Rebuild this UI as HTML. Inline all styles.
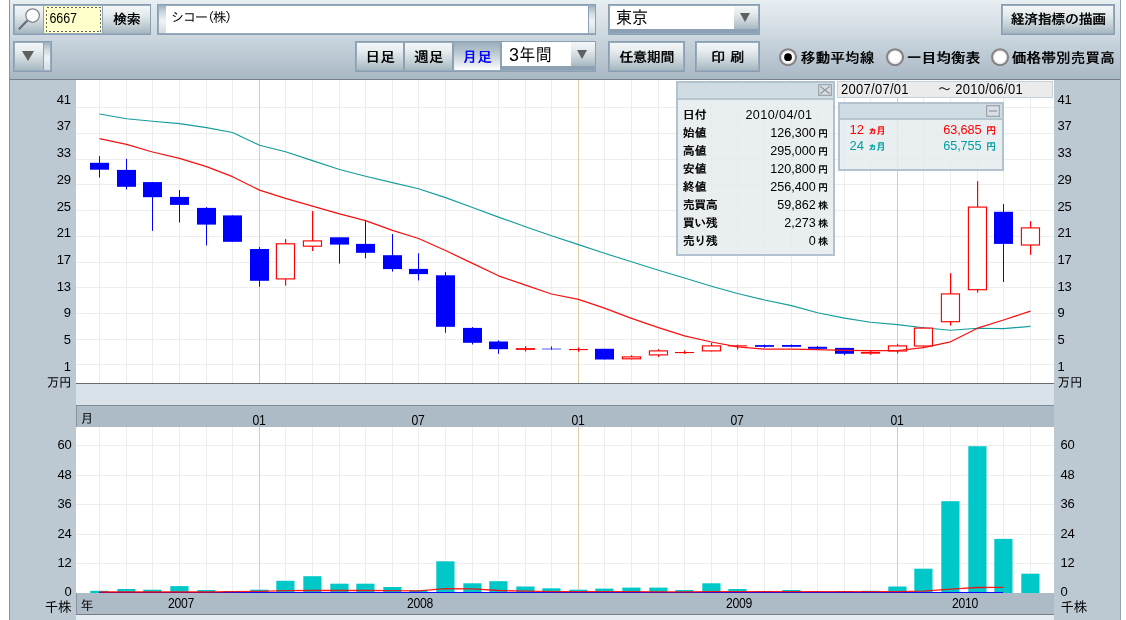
<!DOCTYPE html>
<html lang="ja">
<head>
<meta charset="utf-8">
<title>株価チャート</title>
<style>
html,body{margin:0;padding:0;background:#fff;}
body{width:1126px;height:620px;overflow:hidden;position:relative;font-family:"Liberation Sans","IPAGothic","Noto Sans CJK JP",sans-serif;font-size:13px;color:#000;}
div{box-sizing:border-box;}
#frame{position:absolute;left:9px;top:0;width:1112px;height:620px;background:#bcc9d3;border-left:1px solid #8693a0;border-right:1px solid #95a2ae;}
#tb{position:absolute;left:10px;top:0;width:1110px;height:80px;background:linear-gradient(#e9f0f2 0%,#e4ebf0 7%,#dbe3e9 25%,#c6d2db 55%,#a9b8c6 100%);border-bottom:1px solid #7a8088;}
.abs{position:absolute;}
.grp{position:absolute;background:#8da1b4;box-shadow:inset 0 0 0 1px #8a9fb2, inset 0 0 0 2px #97abbc;}
.btn{position:absolute;background:linear-gradient(#f4f7f8 0%,#e5ebee 32%,#c4d0d6 70%,#a7b8c1 100%);text-align:center;font-weight:normal;text-shadow:.55px 0 0 currentColor;font-family:"Liberation Sans","IPAGothic","Noto Sans CJK JP",sans-serif;white-space:nowrap;}
.btn.on{background:linear-gradient(#9fb1be 0%,#b4c3cd 30%,#e2e8ec 75%,#ffffff 100%);color:#0000ff;}
.spl{position:absolute;background:linear-gradient(180deg,#a2b5c1 0%,#cdd8df 25%,#eff3f5 55%,#d2dce2 100%);}
.wht{position:absolute;background:#fff;white-space:nowrap;}
.tri{position:absolute;width:0;height:0;border-left:6px solid transparent;border-right:6px solid transparent;border-top:9.5px solid #606060;}
.radio{position:absolute;width:18px;height:18px;border-radius:50%;background:radial-gradient(circle at 50% 50%,#fff 0,#fff 4.8px,#e4e4e4 5.8px,#a8a4a4 6.9px,#858383 7.8px,#858383 8.4px,rgba(133,131,131,0) 9.1px);}
.radio i{position:absolute;left:5.2px;top:5.2px;width:7.6px;height:7.6px;border-radius:50%;background:#000;}
.rlab{position:absolute;top:48.7px;font-weight:normal;text-shadow:.6px 0 0 currentColor;font-size:14.5px;letter-spacing:.22px;line-height:18px;white-space:nowrap;}
.ll,.rl{position:absolute;height:16px;line-height:16px;font-size:13px;white-space:nowrap;letter-spacing:-.3px;transform:scale(1,1.05);}
.ll{right:1054.6px;text-align:right;transform-origin:100% 50%;}
.rl{left:1060.5px;transform-origin:0 50%;}
.pl{right:1055.3px}.pr{left:1057.6px}
.cj{font-size:12.5px;letter-spacing:-.2px;}
.ml,.yl{position:absolute;width:40px;text-align:center;font-size:13px;line-height:16px;height:16px;letter-spacing:-.35px;transform:scale(.94,1.08);}
.ml{top:412.5px;margin-left:-1px;}
.yl{top:596.3px;}
.bar{position:absolute;left:76px;width:978px;background:#adbbc7;}
.box{position:absolute;border:2px solid #b2c2ce;background:rgba(228,235,238,.8);}
.box .ttl{position:absolute;left:0;top:0;right:0;background:rgba(203,216,224,.85);border-bottom:2px solid #b6c6d1;}
.row{position:absolute;left:0;right:0;height:18px;line-height:18px;white-space:nowrap;}
.row b{position:absolute;left:4.5px;font-size:12px;font-weight:normal;text-shadow:.45px 0 0 currentColor;letter-spacing:0;}
.row span{position:absolute;right:17.3px;font-size:12.6px;letter-spacing:0;}
.row em{position:absolute;right:5px;font-style:normal;font-size:10px;font-weight:normal;text-shadow:.3px 0 0 currentColor;top:1px;}
</style>
</head>
<body>
<div id="frame"></div>
<div id="tb"></div>

<!-- search group -->
<div class="grp" style="left:13px;top:4px;width:138px;height:31px"></div>
<div class="btn" style="left:15px;top:6px;width:28px;height:27px"></div>
<svg class="abs" style="left:15px;top:6px" width="28" height="27" viewBox="0 0 28 27"><line x1="12.6" y1="14.2" x2="3.9" y2="23.2" stroke="#696f7a" stroke-width="2.2"/><circle cx="17.6" cy="9.5" r="6.75" fill="#fff" stroke="#7e848e" stroke-width="1.25"/></svg>
<div class="abs" style="left:44px;top:6px;width:58px;height:27px;background:#ffffcc;"></div>
<svg class="abs" style="left:44px;top:6px" width="58" height="27"><rect x="2.5" y="1.5" width="54" height="24" fill="none" stroke="#666" stroke-width="1" stroke-dasharray="2 2" shape-rendering="crispEdges"/></svg>
<div class="abs" style="left:49.5px;top:10.8px;font-size:12.5px;line-height:16px;letter-spacing:-.1px;transform:scale(1,1.12);transform-origin:0 50%">6667</div>
<div class="btn" style="left:103px;top:6px;width:47px;height:27px;line-height:27px;font-size:13.8px;letter-spacing:-.2px">検索</div>

<!-- name field -->
<div class="grp" style="left:157px;top:4px;width:439px;height:31px"></div>
<div class="spl" style="left:159px;top:6px;width:7px;height:27px"></div>
<div class="wht" style="left:166px;top:6px;width:422px;height:27px;"><span class="abs" style="left:5px;top:3.7px;font-size:13.3px;line-height:16px;letter-spacing:-1.4px">シコー<span style="margin-left:-5.5px">（</span>株<span style="margin-right:-5.5px">）</span></span></div>
<div class="spl" style="left:589px;top:6px;width:6px;height:27px"></div>

<!-- market select -->
<div class="grp" style="left:608px;top:4px;width:152px;height:31px"></div>
<div class="wht" style="left:610px;top:6px;width:124px;height:23px;"><span class="abs" style="left:6px;top:1.5px;font-size:16px;line-height:20px;transform:scale(1,1.12);transform-origin:0 50%">東京</span></div>
<div class="btn" style="left:734px;top:6px;width:24px;height:23px"></div>
<div class="tri" style="left:740.2px;top:12.8px;border-left-width:5.6px;border-right-width:5.6px;border-top-width:9.8px"></div>

<!-- keizai button -->
<div class="grp" style="left:1001px;top:4px;width:114px;height:31px"></div>
<div class="btn" style="left:1003px;top:6px;width:110px;height:27px;line-height:27px;font-size:13.8px;letter-spacing:-.2px">経済指標の描画</div>

<!-- row 2 -->
<div class="grp" style="left:13px;top:41px;width:39px;height:31px"></div>
<div class="btn" style="left:15px;top:43px;width:28px;height:27px"></div>
<div class="tri" style="left:22.2px;top:51.2px;border-left-width:6.4px;border-right-width:6.4px;border-top-width:10.8px"></div>
<div class="spl" style="left:44px;top:43px;width:6px;height:27px"></div>

<div class="grp" style="left:355px;top:41px;width:241px;height:31px"></div>
<div class="btn" style="left:357px;top:43px;width:46px;height:27px;line-height:28px;font-size:14.5px;letter-spacing:.5px;text-indent:.5px">日足</div>
<div class="btn" style="left:405px;top:43px;width:47px;height:27px;line-height:28px;font-size:14.5px;letter-spacing:.5px;text-indent:.5px">週足</div>
<div class="btn on" style="left:454px;top:43px;width:46px;height:27px;line-height:28px;font-size:14.5px;letter-spacing:.5px;text-indent:.5px">月足</div>
<div class="wht" style="left:502px;top:42px;width:69px;height:24px;"><span class="abs" style="left:6.5px;top:3px;font-size:16px;line-height:20px;letter-spacing:.5px;transform:scale(1,1.1);transform-origin:0 50%"><span style="display:inline-block;transform:scale(1.12,1);transform-origin:0 50%;margin-right:1.4px">3</span>年間</span></div>
<div class="btn" style="left:571px;top:42px;width:24px;height:24px"></div>
<div class="tri" style="left:576.9px;top:49.8px;border-left-width:5.9px;border-right-width:5.9px;border-top-width:9.8px"></div>

<div class="grp" style="left:608px;top:41px;width:77px;height:31px"></div>
<div class="btn" style="left:610px;top:43px;width:73px;height:27px;line-height:28px;font-size:14px;letter-spacing:-.3px">任意期間</div>
<div class="grp" style="left:695px;top:41px;width:65px;height:31px"></div>
<div class="btn" style="left:697px;top:43px;width:61px;height:27px;line-height:28px;font-size:14px;word-spacing:1px">印 刷</div>

<svg class="abs" style="left:778.7px;top:47.8px" width="18.2" height="18.4" viewBox="0 0 18.2 18.4"><defs><radialGradient id="rg778" cx="50%" cy="50%" r="50%"><stop offset="0" stop-color="#fff"/><stop offset=".62" stop-color="#fff"/><stop offset=".82" stop-color="#e6e3e9"/><stop offset="1" stop-color="#cfcbd3"/></radialGradient></defs><circle cx="9.05" cy="9.2" r="8.0" fill="url(#rg778)" stroke="#848282" stroke-width="2"/><circle cx="9.05" cy="9.2" r="3.9" fill="#000"/></svg>
<div class="rlab" style="left:800.6px">移動平均線</div>
<svg class="abs" style="left:886.1px;top:47.8px" width="18.2" height="18.4" viewBox="0 0 18.2 18.4"><defs><radialGradient id="rg886" cx="50%" cy="50%" r="50%"><stop offset="0" stop-color="#fff"/><stop offset=".62" stop-color="#fff"/><stop offset=".82" stop-color="#e6e3e9"/><stop offset="1" stop-color="#cfcbd3"/></radialGradient></defs><circle cx="9.05" cy="9.2" r="8.0" fill="url(#rg886)" stroke="#848282" stroke-width="2"/></svg>
<div class="rlab" style="left:906.6px">一目均衡表</div>
<svg class="abs" style="left:990.7px;top:47.8px" width="18.2" height="18.4" viewBox="0 0 18.2 18.4"><defs><radialGradient id="rg990" cx="50%" cy="50%" r="50%"><stop offset="0" stop-color="#fff"/><stop offset=".62" stop-color="#fff"/><stop offset=".82" stop-color="#e6e3e9"/><stop offset="1" stop-color="#cfcbd3"/></radialGradient></defs><circle cx="9.05" cy="9.2" r="8.0" fill="url(#rg990)" stroke="#848282" stroke-width="2"/></svg>
<div class="rlab" style="left:1011.6px">価格帯別売買高</div>

<!-- chart bands -->
<div class="abs" style="left:76px;top:384px;width:978px;height:21px;background:#d9e1e9"></div>
<div class="bar" style="top:405px;height:22px;border-top:1px solid #7e8a96;border-left:1px solid #88949f;"></div>
<div class="bar" style="top:593px;height:22px;border-bottom:1px solid #747e88;border-left:1px solid #88949f;"></div>
<div class="abs" style="left:76px;top:615px;width:978px;height:5px;background:#e6edf2"></div>

<svg width="1126" height="620" viewBox="0 0 1126 620" style="position:absolute;left:0;top:0">
<rect x="76" y="80" width="978" height="303" fill="#fff"/>
<rect x="76" y="427" width="978" height="166" fill="#fff"/>
<path d="M76 107.5H1054M76 133.5H1054M76 159.5H1054M76 184.5H1054M76 210.5H1054M76 236.5H1054M76 262.5H1054M76 287.5H1054M76 313.5H1054M76 339.5H1054M76 364.5H1054M76 445.5H1054M76 475.5H1054M76 504.5H1054M76 534.5H1054M76 563.5H1054M99.5 80V383M99.5 427V593M126.5 80V383M126.5 427V593M152.5 80V383M152.5 427V593M179.5 80V383M179.5 427V593M206.5 80V383M206.5 427V593M232.5 80V383M232.5 427V593M285.5 80V383M285.5 427V593M312.5 80V383M312.5 427V593M339.5 80V383M339.5 427V593M365.5 80V383M365.5 427V593M392.5 80V383M392.5 427V593M418.5 80V383M418.5 427V593M445.5 80V383M445.5 427V593M472.5 80V383M472.5 427V593M498.5 80V383M498.5 427V593M525.5 80V383M525.5 427V593M551.5 80V383M551.5 427V593M604.5 80V383M604.5 427V593M631.5 80V383M631.5 427V593M658.5 80V383M658.5 427V593M684.5 80V383M684.5 427V593M711.5 80V383M711.5 427V593M737.5 80V383M737.5 427V593M764.5 80V383M764.5 427V593M791.5 80V383M791.5 427V593M817.5 80V383M817.5 427V593M844.5 80V383M844.5 427V593M870.5 80V383M870.5 427V593M923.5 80V383M923.5 427V593M950.5 80V383M950.5 427V593M977.5 80V383M977.5 427V593M1003.5 80V383M1003.5 427V593M1030.5 80V383M1030.5 427V593" stroke="#ededed" stroke-width="1" fill="none" shape-rendering="crispEdges"/>
<path d="M259.5 80V383M259.5 427V593M578.5 80V383M578.5 427V593M897.5 80V383M897.5 427V593" stroke="#dccfa6" stroke-width="1" fill="none" shape-rendering="crispEdges"/>
<rect x="90.3" y="590.8" width="18.2" height="2.2" fill="#00c8c8"/>
<rect x="117.3" y="589.0" width="18.2" height="4.0" fill="#00c8c8"/>
<rect x="143.3" y="589.7" width="18.2" height="3.3" fill="#00c8c8"/>
<rect x="170.3" y="586.1" width="18.2" height="6.9" fill="#00c8c8"/>
<rect x="197.3" y="590.0" width="18.2" height="3.0" fill="#00c8c8"/>
<rect x="223.3" y="591.2" width="18.2" height="1.8" fill="#00c8c8"/>
<rect x="250.3" y="589.7" width="18.2" height="3.3" fill="#00c8c8"/>
<rect x="276.3" y="580.8" width="18.2" height="12.2" fill="#00c8c8"/>
<rect x="303.3" y="576.2" width="18.2" height="16.8" fill="#00c8c8"/>
<rect x="330.3" y="583.7" width="18.2" height="9.3" fill="#00c8c8"/>
<rect x="356.3" y="583.7" width="18.2" height="9.3" fill="#00c8c8"/>
<rect x="383.3" y="587.0" width="18.2" height="6.0" fill="#00c8c8"/>
<rect x="409.3" y="590.4" width="18.2" height="2.6" fill="#00c8c8"/>
<rect x="436.3" y="561.3" width="18.2" height="31.7" fill="#00c8c8"/>
<rect x="463.3" y="583.3" width="18.2" height="9.7" fill="#00c8c8"/>
<rect x="489.3" y="581.2" width="18.2" height="11.8" fill="#00c8c8"/>
<rect x="516.3" y="586.5" width="18.2" height="6.5" fill="#00c8c8"/>
<rect x="542.3" y="588.3" width="18.2" height="4.7" fill="#00c8c8"/>
<rect x="569.3" y="589.7" width="18.2" height="3.3" fill="#00c8c8"/>
<rect x="595.3" y="588.6" width="18.2" height="4.4" fill="#00c8c8"/>
<rect x="622.3" y="587.6" width="18.2" height="5.4" fill="#00c8c8"/>
<rect x="649.3" y="587.6" width="18.2" height="5.4" fill="#00c8c8"/>
<rect x="675.3" y="590.0" width="18.2" height="3.0" fill="#00c8c8"/>
<rect x="702.3" y="583.3" width="18.2" height="9.7" fill="#00c8c8"/>
<rect x="728.3" y="589.0" width="18.2" height="4.0" fill="#00c8c8"/>
<rect x="755.3" y="591.2" width="18.2" height="1.8" fill="#00c8c8"/>
<rect x="782.3" y="590.0" width="18.2" height="3.0" fill="#00c8c8"/>
<rect x="808.3" y="591.5" width="18.2" height="1.5" fill="#00c8c8"/>
<rect x="835.3" y="591.0" width="18.2" height="2.0" fill="#00c8c8"/>
<rect x="861.3" y="590.8" width="18.2" height="2.2" fill="#00c8c8"/>
<rect x="888.3" y="586.5" width="18.2" height="6.5" fill="#00c8c8"/>
<rect x="914.3" y="568.7" width="18.2" height="24.3" fill="#00c8c8"/>
<rect x="941.3" y="501.2" width="18.2" height="91.8" fill="#00c8c8"/>
<rect x="968.3" y="446.2" width="18.2" height="146.8" fill="#00c8c8"/>
<rect x="994.3" y="538.9" width="18.2" height="54.1" fill="#00c8c8"/>
<rect x="1021.3" y="573.7" width="18.2" height="19.3" fill="#00c8c8"/>
<rect x="99" y="592" width="904" height="1" fill="#0a0aff"/>
<path d="M99.5 592L126.5 592L152.5 592L179.5 592L206.5 592L232.5 591.7L259.5 591.3L285.5 590.6L312.5 590.5L339.5 590.5L365.5 590.5L392.5 590.6L418.5 590.8L445.5 588.6L472.5 588.8L498.5 590.5L525.5 591.2L551.5 591.6L578.5 591.7L604.5 591.7L631.5 591.7L658.5 591.8L684.5 591.9L711.5 591.7L737.5 591.7L764.5 591.7L791.5 591.7L817.5 591.7L844.5 591.7L870.5 591.7L897.5 591.7L923.5 591.2L950.5 589.2L977.5 587.5L1003.5 587.3" stroke="#ff0000" stroke-width="1.3" stroke-opacity=".88" fill="none"/>
<path d="M99.5 114.0L126.5 118.7L152.5 121.2L179.5 123.6L206.5 127.6L232.5 132.5L259.5 145.3L285.5 151.7L312.5 160.6L339.5 169.5L365.5 176.2L392.5 182.6L418.5 188.7L445.5 197.6L472.5 207.5L498.5 217.1L525.5 226.7L551.5 235.7L578.5 244.6L604.5 253.3L631.5 261.8L658.5 270.2L684.5 278.0L711.5 286.2L737.5 293.5L764.5 300.0L791.5 305.6L817.5 312.7L844.5 318.1L870.5 322.3L897.5 324.6L923.5 327.7L950.5 330.3L977.5 328.2L1003.5 328.6L1030.5 326.4" stroke="#149c9c" stroke-width="1.15" fill="none" stroke-linejoin="round"/>
<rect x="99" y="156.2" width="1" height="21.3" fill="#0000ff"/>
<rect x="90" y="162.8" width="19" height="6.9" fill="#0000ff"/>
<rect x="126" y="158.9" width="1" height="30.5" fill="#0000ff"/>
<rect x="117" y="169.9" width="19" height="16.9" fill="#0000ff"/>
<rect x="152" y="182.1" width="1" height="48.7" fill="#0000ff"/>
<rect x="143" y="182.1" width="19" height="15.1" fill="#0000ff"/>
<rect x="179" y="190.0" width="1" height="32.5" fill="#0000ff"/>
<rect x="170" y="196.9" width="19" height="8.0" fill="#0000ff"/>
<rect x="206" y="207.2" width="1" height="38.2" fill="#0000ff"/>
<rect x="197" y="207.9" width="19" height="16.7" fill="#0000ff"/>
<rect x="232" y="215.4" width="1" height="26.4" fill="#0000ff"/>
<rect x="223" y="215.4" width="19" height="26.4" fill="#0000ff"/>
<rect x="259" y="247.1" width="1" height="39.6" fill="#0000ff"/>
<rect x="250" y="249.0" width="19" height="31.8" fill="#0000ff"/>
<rect x="285" y="239.1" width="1.2" height="46.5" fill="#ff0000"/>
<rect x="276.4" y="243.8" width="18.1" height="35.1" fill="#fff" stroke="#ff0000" stroke-width="1.15"/>
<rect x="312" y="211.0" width="1.2" height="40.0" fill="#ff0000"/>
<rect x="303.4" y="240.9" width="18.1" height="5.3" fill="#fff" stroke="#ff0000" stroke-width="1.15"/>
<rect x="339" y="237.3" width="1" height="26.3" fill="#0000ff"/>
<rect x="330" y="237.3" width="19" height="7.3" fill="#0000ff"/>
<rect x="365" y="220.4" width="1" height="37.9" fill="#0000ff"/>
<rect x="356" y="243.9" width="19" height="8.9" fill="#0000ff"/>
<rect x="392" y="234.1" width="1" height="37.5" fill="#0000ff"/>
<rect x="383" y="255.2" width="19" height="13.9" fill="#0000ff"/>
<rect x="418" y="253.3" width="1" height="27.2" fill="#0000ff"/>
<rect x="409" y="268.9" width="19" height="5.2" fill="#0000ff"/>
<rect x="445" y="272.1" width="1" height="60.7" fill="#0000ff"/>
<rect x="436" y="275.3" width="19" height="51.5" fill="#0000ff"/>
<rect x="472" y="327.1" width="1" height="17.3" fill="#0000ff"/>
<rect x="463" y="327.9" width="19" height="14.9" fill="#0000ff"/>
<rect x="498" y="340.3" width="1" height="13.5" fill="#0000ff"/>
<rect x="489" y="341.5" width="19" height="7.7" fill="#0000ff"/>
<rect x="525" y="346.1" width="1.2" height="5.4" fill="#ff0000"/>
<rect x="516.4" y="348.7" width="18.1" height="0.6" fill="#fff" stroke="#ff0000" stroke-width="1.15"/>
<rect x="551" y="346.5" width="1" height="3.5" fill="#0000ff"/>
<rect x="542" y="348.5" width="19" height="1" fill="#5a5aff"/>
<rect x="578" y="347.4" width="1.2" height="4.4" fill="#ff0000"/>
<rect x="569" y="349.0" width="19" height="1.1" fill="#ff0000"/>
<rect x="604" y="348.8" width="1" height="10.7" fill="#0000ff"/>
<rect x="595" y="348.8" width="19" height="10.7" fill="#0000ff"/>
<rect x="631" y="355.2" width="1.2" height="4.2" fill="#ff0000"/>
<rect x="622.4" y="356.9" width="18.1" height="1.9" fill="#fff" stroke="#ff0000" stroke-width="1.15"/>
<rect x="658" y="349.1" width="1.2" height="7.9" fill="#ff0000"/>
<rect x="649.4" y="350.9" width="18.1" height="4.0" fill="#fff" stroke="#ff0000" stroke-width="1.15"/>
<rect x="684" y="350.4" width="1.2" height="3.5" fill="#ff0000"/>
<rect x="675" y="352.0" width="19" height="1.1" fill="#ff0000"/>
<rect x="711" y="342.8" width="1.2" height="8.7" fill="#ff0000"/>
<rect x="702.4" y="345.9" width="18.1" height="5.0" fill="#fff" stroke="#ff0000" stroke-width="1.15"/>
<rect x="737" y="344.7" width="1.2" height="4.8" fill="#ff0000"/>
<rect x="728" y="345.3" width="19" height="1.1" fill="#ff0000"/>
<rect x="764" y="344.7" width="1" height="3.0" fill="#0000ff"/>
<rect x="755" y="345.1" width="19" height="1.7" fill="#0000ff"/>
<rect x="791" y="344.5" width="1" height="2.7" fill="#0000ff"/>
<rect x="782" y="345.0" width="19" height="1.8" fill="#0000ff"/>
<rect x="817" y="346.0" width="1" height="3.1" fill="#0000ff"/>
<rect x="808" y="346.8" width="19" height="2.0" fill="#0000ff"/>
<rect x="844" y="347.9" width="1" height="7.3" fill="#0000ff"/>
<rect x="835" y="347.9" width="19" height="5.9" fill="#0000ff"/>
<rect x="870" y="350.9" width="1.2" height="3.9" fill="#ff0000"/>
<rect x="861.4" y="352.4" width="18.1" height="0.7" fill="#fff" stroke="#ff0000" stroke-width="1.15"/>
<rect x="897" y="343.8" width="1.2" height="9.6" fill="#ff0000"/>
<rect x="888.4" y="345.9" width="18.1" height="5.1" fill="#fff" stroke="#ff0000" stroke-width="1.15"/>
<rect x="923" y="327.5" width="1.2" height="20.4" fill="#ff0000"/>
<rect x="914.4" y="328.1" width="18.1" height="17.9" fill="#fff" stroke="#ff0000" stroke-width="1.15"/>
<rect x="950" y="273.2" width="1.2" height="52.3" fill="#ff0000"/>
<rect x="941.4" y="293.9" width="18.1" height="27.8" fill="#fff" stroke="#ff0000" stroke-width="1.15"/>
<rect x="977" y="181.1" width="1.2" height="111.6" fill="#ff0000"/>
<rect x="968.4" y="207.1" width="18.1" height="82.6" fill="#fff" stroke="#ff0000" stroke-width="1.15"/>
<rect x="1003" y="204.1" width="1" height="77.9" fill="#0000ff"/>
<rect x="994" y="211.8" width="19" height="32.1" fill="#0000ff"/>
<rect x="1030" y="221.2" width="1.2" height="33.6" fill="#ff0000"/>
<rect x="1021.4" y="227.9" width="18.1" height="17.1" fill="#fff" stroke="#ff0000" stroke-width="1.15"/>
<path d="M99.5 138.6L126.5 144.3L152.5 152.0L179.5 158.3L206.5 166.7L232.5 176.7L259.5 190.1L285.5 198.3L312.5 206.1L339.5 213.9L365.5 220.6L392.5 230.3L418.5 238.5L445.5 250.5L472.5 263.4L498.5 275.8L525.5 285.2L551.5 294.0L578.5 299.4L604.5 308.2L631.5 318.4L658.5 327.6L684.5 335.8L711.5 342.0L737.5 346.8L764.5 349.2L791.5 349.1L817.5 349.7L844.5 350.4L870.5 350.7L897.5 350.7L923.5 347.7L950.5 341.8L977.5 328.2L1003.5 320.0L1030.5 311.2" stroke="#f81010" stroke-width="1.25" fill="none" stroke-linejoin="round"/>
<rect x="76" y="383" width="978" height="1" fill="#666b70"/>
</svg>

<div class="ll pl" style="top:91.7px">41</div><div class="rl pr" style="top:91.7px">41</div>
<div class="ll pl" style="top:118.4px">37</div><div class="rl pr" style="top:118.4px">37</div>
<div class="ll pl" style="top:145.1px">33</div><div class="rl pr" style="top:145.1px">33</div>
<div class="ll pl" style="top:171.8px">29</div><div class="rl pr" style="top:171.8px">29</div>
<div class="ll pl" style="top:198.5px">25</div><div class="rl pr" style="top:198.5px">25</div>
<div class="ll pl" style="top:225.2px">21</div><div class="rl pr" style="top:225.2px">21</div>
<div class="ll pl" style="top:251.9px">17</div><div class="rl pr" style="top:251.9px">17</div>
<div class="ll pl" style="top:278.6px">13</div><div class="rl pr" style="top:278.6px">13</div>
<div class="ll pl" style="top:305.3px">9</div><div class="rl pr" style="top:305.3px">9</div>
<div class="ll pl" style="top:332.0px">5</div><div class="rl pr" style="top:332.0px">5</div>
<div class="ll pl" style="top:358.7px">1</div><div class="rl pr" style="top:358.7px">1</div>
<div class="ll cj" style="top:375px">万円</div><div class="rl cj pr" style="top:375px">万円</div>
<div class="ll" style="top:436.5px">60</div><div class="rl" style="top:436.5px">60</div>
<div class="ll" style="top:466.5px">48</div><div class="rl" style="top:466.5px">48</div>
<div class="ll" style="top:496.0px">36</div><div class="rl" style="top:496.0px">36</div>
<div class="ll" style="top:525.5px">24</div><div class="rl" style="top:525.5px">24</div>
<div class="ll" style="top:555.0px">12</div><div class="rl" style="top:555.0px">12</div>
<div class="ll" style="top:583.5px">0</div><div class="rl" style="top:583.5px">0</div>
<div class="ll cj" style="top:600px;font-size:13.5px">千株</div><div class="rl cj" style="top:600px;font-size:13.5px">千株</div>
<div class="ml" style="left:239.5px">01</div>
<div class="ml" style="left:398.5px">07</div>
<div class="ml" style="left:558.5px">01</div>
<div class="ml" style="left:717.5px">07</div>
<div class="ml" style="left:877.5px">01</div>
<div class="yl" style="left:160.5px">2007</div>
<div class="yl" style="left:399.5px">2008</div>
<div class="yl" style="left:718.5px">2009</div>
<div class="yl" style="left:945.0px">2010</div>
<div class="abs cj" style="left:80.5px;top:410.5px;line-height:16px;font-size:13px">月</div>
<div class="abs cj" style="left:80.5px;top:597.5px;line-height:16px;font-size:13px">年</div>

<!-- date range -->
<div class="abs" style="left:837px;top:81px;width:216px;height:17px;background:#ebebeb;border:1px solid #c6d2da;"></div>
<div class="abs" style="left:841px;top:81.5px;font-size:13px;line-height:16px;letter-spacing:.27px;white-space:nowrap;transform:scale(1,1.08)">2007/07/01</div>
<div class="abs" style="left:938px;top:81.5px;font-size:13px;line-height:16px;letter-spacing:.27px;white-space:nowrap;transform:scale(1,1.08)">～ 2010/06/01</div>

<!-- info box -->
<div class="box" style="left:676px;top:81px;width:159px;height:175px">
 <div class="ttl" style="height:17px"></div>
 <svg class="abs" style="left:140px;top:1px" width="14" height="12" viewBox="0 0 14 12"><rect x=".65" y=".65" width="12.7" height="10.7" fill="#d8e0e5" stroke="#9fa7ad" stroke-width="1.3"/><path d="M2.3 2.5L11.7 9.6M11.7 2.5L2.3 9.6" stroke="#9c9c9c" stroke-width="1.4"/></svg>
 <div class="row" style="top:22.5px"><b>日付</b><span style="right:20.5px;letter-spacing:.4px">2010/04/01</span></div>
 <div class="row" style="top:40.7px"><b>始値</b><span>126,300</span><em>円</em></div>
 <div class="row" style="top:58.7px"><b>高値</b><span>295,000</span><em>円</em></div>
 <div class="row" style="top:77px"><b>安値</b><span>120,800</span><em>円</em></div>
 <div class="row" style="top:95px"><b>終値</b><span>256,400</span><em>円</em></div>
 <div class="row" style="top:112.7px"><b style="letter-spacing:-.5px">売買高</b><span>59,862</span><em>株</em></div>
 <div class="row" style="top:130.7px"><b style="letter-spacing:-.5px">買い残</b><span>2,273</span><em>株</em></div>
 <div class="row" style="top:149px"><b style="letter-spacing:-.5px">売り残</b><span>0</span><em>株</em></div>
</div>

<!-- legend box -->
<div class="box" style="left:838px;top:102px;width:166px;height:69px">
 <div class="ttl" style="height:16px"></div>
 <svg class="abs" style="left:146px;top:1px" width="14" height="12" viewBox="0 0 14 12"><rect x=".65" y=".65" width="12.7" height="10.7" fill="#d8e0e5" stroke="#9fa7ad" stroke-width="1.3"/><path d="M3 6H11" stroke="#9a9ea2" stroke-width="1.4"/></svg>
 <div class="row" style="top:17px;color:#ff0000"><span style="left:9.5px;right:auto;font-size:13px;letter-spacing:0">12 <i style="font-style:normal;font-size:9.5px;text-shadow:.3px 0 0 currentColor;letter-spacing:-1px">ヵ月</i></span><span style="right:20.5px;font-size:12.7px;letter-spacing:-.1px">63,685</span><em style="right:6px">円</em></div>
 <div class="row" style="top:33px;color:#00a0a0"><span style="left:9.5px;right:auto;font-size:13px;letter-spacing:0">24 <i style="font-style:normal;font-size:9.5px;text-shadow:.3px 0 0 currentColor;letter-spacing:-1px">ヵ月</i></span><span style="right:20.5px;font-size:12.7px;letter-spacing:-.1px">65,755</span><em style="right:6px">円</em></div>
</div>
</body>
</html>
